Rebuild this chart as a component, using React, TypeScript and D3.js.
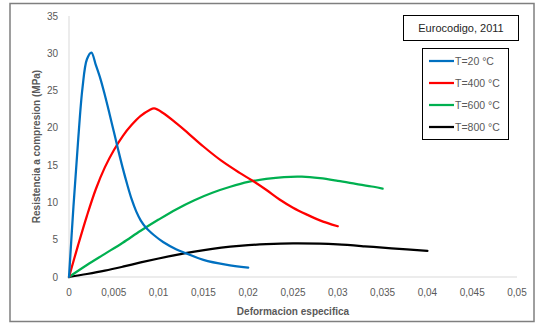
import React, { useRef, useEffect } from 'react';
import * as d3 from 'd3';

// strain values, with stress in MPa
const blueX = [0, 0.0005, 0.001, 0.0015, 0.002, 0.0025, 0.003, 0.0035, 0.004, 0.0045, 0.005, 0.0055, 0.006, 0.0065, 0.007, 0.0075, 0.008, 0.0086, 0.0095, 0.0105, 0.012, 0.013, 0.015, 0.0175, 0.02];
const blueY = [0, 9.5, 18, 25.3, 29.2, 30.1, 28.4, 26.6, 24.4, 22.0, 19.5, 17.0, 14.6, 12.4, 10.4, 8.8, 7.6, 6.6, 5.6, 4.7, 3.7, 3.2, 2.3, 1.65, 1.25];

const redX = [0, 0.001, 0.002, 0.003, 0.004, 0.005, 0.006, 0.007, 0.008, 0.009, 0.0095, 0.0105, 0.012, 0.013, 0.015, 0.017, 0.019, 0.0205, 0.022, 0.0235, 0.025, 0.0265, 0.028, 0.03];
const redY = [0, 4.2, 8.2, 11.8, 14.7, 17.0, 18.9, 20.4, 21.6, 22.4, 22.6, 22.0, 20.6, 19.6, 17.5, 15.6, 14.0, 12.9, 11.7, 10.4, 9.3, 8.4, 7.6, 6.8];

const greenX = [0, 0.002, 0.004, 0.006, 0.008, 0.01, 0.012, 0.014, 0.016, 0.018, 0.02, 0.022, 0.024, 0.026, 0.028, 0.03, 0.032, 0.034, 0.035];
const greenY = [0, 1.6, 3.1, 4.6, 6.2, 7.7, 9.1, 10.3, 11.3, 12.1, 12.75, 13.15, 13.4, 13.45, 13.25, 12.9, 12.5, 12.1, 11.85];

const blackX = [0, 0.002, 0.004, 0.006, 0.008, 0.01, 0.012, 0.014, 0.016, 0.018, 0.02, 0.022, 0.025, 0.028, 0.03, 0.033, 0.036, 0.04];
const blackY = [0, 0.4, 0.85, 1.38, 1.95, 2.48, 2.97, 3.4, 3.77, 4.06, 4.27, 4.4, 4.5, 4.46, 4.36, 4.12, 3.85, 3.5];

const seriesNames = ['T=20 °C', 'T=400 °C', 'T=600 °C', 'T=800 °C'];
const seriesColors = ['#0070C0', '#FF0000', '#00B050', '#000000'];
const xTicks = [0, 0.005, 0.01, 0.015, 0.02, 0.025, 0.03, 0.035, 0.04, 0.045, 0.05];
const yTicks = [0, 5, 10, 15, 20, 25, 30, 35];

const font = 'Liberation Sans, Arial, sans-serif';
const gray = '#595959';

const App: React.FC = () => {
  const svgRef = useRef<SVGSVGElement>(null);

  useEffect(() => {
    if (!svgRef.current) return;
    const svg = d3.select(svgRef.current);
    svg.selectAll('*').remove();

    const width = 536;
    const height = 324;

    svg.append('rect')
      .attr('x', 10).attr('y', 3.5)
      .attr('width', 524).attr('height', 318)
      .attr('fill', '#fff')
      .attr('stroke', '#7f7f7f')
      .attr('stroke-width', 1.5);

    const x = d3.scaleLinear().domain([0, 0.05]).range([69, 517]);
    const y = d3.scaleLinear().domain([0, 35]).range([277, 16]);

    // axis lines
    svg.append('line')
      .attr('x1', x(0)).attr('x2', x(0.05))
      .attr('y1', y(0)).attr('y2', y(0))
      .attr('stroke', '#d9d9d9');
    svg.append('line')
      .attr('x1', x(0)).attr('x2', x(0))
      .attr('y1', y(0)).attr('y2', y(35))
      .attr('stroke', '#d9d9d9');

    const fmt = (v: number) => String(+v.toFixed(3)).replace('.', ',');

    svg.append('g').selectAll('text')
      .data(xTicks)
      .enter().append('text')
      .attr('x', d => x(d))
      .attr('y', 296)
      .attr('text-anchor', 'middle')
      .style('font-family', font)
      .style('font-size', '10px')
      .style('fill', gray)
      .text(d => fmt(d));

    svg.append('g').selectAll('text')
      .data(yTicks)
      .enter().append('text')
      .attr('x', 58)
      .attr('y', d => y(d) + 3.5)
      .attr('text-anchor', 'end')
      .style('font-family', font)
      .style('font-size', '10px')
      .style('fill', gray)
      .text(d => String(d));

    svg.append('text')
      .attr('x', 293).attr('y', 315)
      .attr('text-anchor', 'middle')
      .style('font-family', font)
      .style('font-size', '10px')
      .style('font-weight', 'bold')
      .style('fill', gray)
      .text('Deformacion especifica');

    svg.append('text')
      .attr('transform', `translate(40,${(y(0) + y(35)) / 2}) rotate(-90)`)
      .attr('text-anchor', 'middle')
      .style('font-family', font)
      .style('font-size', '10px')
      .style('font-weight', 'bold')
      .style('fill', gray)
      .text('Resistencia a compresion (MPa)');

    const series = [
      { xs: blueX, ys: blueY },
      { xs: redX, ys: redY },
      { xs: greenX, ys: greenY },
      { xs: blackX, ys: blackY },
    ];

    const line = d3.line<[number, number]>()
      .x(d => x(d[0]))
      .y(d => y(d[1]))
      .curve(d3.curveCatmullRom.alpha(0.5));

    // black first, blue last on top
    [3, 2, 1, 0].forEach(i => {
      const s = series[i];
      const pts = s.xs.map((v, j) => [v, s.ys[j]] as [number, number]);
      svg.append('path')
        .attr('d', line(pts))
        .attr('fill', 'none')
        .attr('stroke', seriesColors[i])
        .attr('stroke-width', 2.25)
        .attr('stroke-linejoin', 'round')
        .attr('stroke-linecap', 'round');
    });

    // title box
    svg.append('rect')
      .attr('x', 403.5).attr('y', 15.5)
      .attr('width', 115).attr('height', 25)
      .attr('fill', '#fff')
      .attr('stroke', '#000');
    svg.append('text')
      .attr('x', 461).attr('y', 32)
      .attr('text-anchor', 'middle')
      .style('font-family', font)
      .style('font-size', '11px')
      .style('fill', '#262626')
      .text('Eurocodigo, 2011');

    // legend
    svg.append('rect')
      .attr('x', 422.5).attr('y', 48.5)
      .attr('width', 86).attr('height', 91)
      .attr('fill', '#fff')
      .attr('stroke', '#000');
    const leg = svg.append('g').selectAll('g')
      .data(seriesNames)
      .enter().append('g')
      .attr('transform', (d, i) => `translate(429,${61 + i * 22})`);
    leg.append('line')
      .attr('x1', 0).attr('x2', 25)
      .attr('stroke', (d, i) => seriesColors[i])
      .attr('stroke-width', 2.25);
    leg.append('text')
      .attr('x', 26).attr('y', 4)
      .style('font-family', font)
      .style('font-size', '10.5px')
      .style('fill', gray)
      .text(d => d);

    svg.attr('width', width).attr('height', height);
  }, []);

  return (
    <svg
      ref={svgRef}
      width={536}
      height={324}
      style={{ position: 'absolute', left: 0, top: 0, background: '#fff' }}
    />
  );
};

export default App;
